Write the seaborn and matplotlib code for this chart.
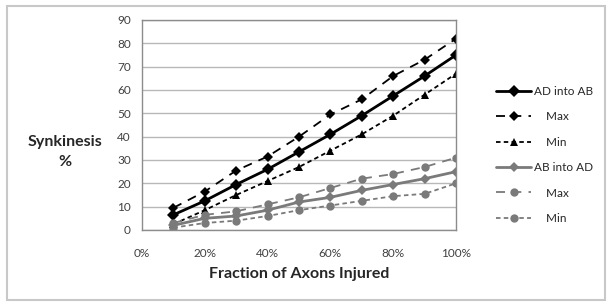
import matplotlib
matplotlib.use('Agg')
import matplotlib.pyplot as plt
import matplotlib.ticker as mticker
from matplotlib.patches import Rectangle
from matplotlib.lines import Line2D
import seaborn as sns
import pandas as pd

# data
fraction = [0.1, 0.2, 0.3, 0.4, 0.5, 0.6, 0.7, 0.8, 0.9, 1.0]
ad_into_ab = [6.5, 12.5, 19.5, 26, 33.5, 41, 49, 57.5, 66, 75]
ad_max = [9.5, 16.5, 25.5, 31.5, 40, 49.5, 56, 66, 73, 82]
ad_min = [2.5, 8.5, 15, 21, 27, 34, 41, 49, 58, 67]
ab_into_ad = [2, 5, 6, 8.5, 12, 14, 17, 19.5, 22, 25]
ab_max = [3, 6.5, 8, 11, 14, 18, 22, 24, 27, 31]
ab_min = [1, 3, 4, 6, 8.5, 10.5, 12.5, 14.5, 15.5, 20]

sns.set_style('white')
plt.rcParams['font.family'] = ['Lato', 'DejaVu Sans']

fig = plt.figure(figsize=(6.12, 3.07), dpi=100)
ax = fig.add_axes([142/612, 1 - 230/307, (456-142)/612, (230-20)/307])

black = '#000000'
gray = '#7a7a7a'
series = [
    ('AD into AB', ad_into_ab, black, '-', 'D', 2.0, 6),
    ('    Max', ad_max, black, (0, (5, 4)), 'D', 1.3, 5.5),
    ('    Min', ad_min, black, (0, (2.5, 1.8)), '^', 1.3, 6),
    ('AB into AD', ab_into_ad, gray, '-', 'D', 2.0, 5),
    ('    Max', ab_max, gray, (0, (5, 4)), 'o', 1.3, 6),
    ('    Min', ab_min, gray, (0, (2.5, 1.8)), 'o', 1.3, 6),
]

handles = []
for label, vals, col, ls, mk, lw, ms in series:
    df = pd.DataFrame({'x': fraction, 'y': vals})
    sns.lineplot(data=df, x='x', y='y', ax=ax, color=col, linestyle=ls,
                 marker=mk, markersize=ms, linewidth=lw, markeredgewidth=0)
    handles.append(Line2D([], [], color=col, linestyle=ls, marker=mk,
                          markersize=ms, linewidth=lw, markeredgewidth=0, label=label))

ax.set_xlim(0, 1)
ax.set_ylim(0, 90)
ax.set_xticks([0, 0.2, 0.4, 0.6, 0.8, 1.0])
ax.xaxis.set_major_formatter(mticker.PercentFormatter(1.0, decimals=0))
ax.set_yticks(range(0, 91, 10))
ax.yaxis.grid(True, color='#b8b8b8', linewidth=1)
ax.set_axisbelow(True)
for s in ax.spines.values():
    s.set_color('#8c8c8c')
    s.set_linewidth(1)
ax.tick_params(axis='both', colors='#8c8c8c', labelcolor='#404040', labelsize=8.5,
               length=4, width=1, direction='out')
ax.tick_params(axis='x', pad=9)
ax.tick_params(axis='y', pad=4)
ax.set_xlabel('Fraction of Axons Injured', fontsize=11.5, fontweight='bold', labelpad=6)
ax.set_ylabel('')
fig.text(65/612, 1 - 152/307, 'Synkinesis\n%', ha='center', va='center',
         fontsize=11.5, fontweight='bold', linespacing=1.5)

leg = ax.legend(handles=handles, loc='upper left', bbox_to_anchor=(490/612, 1 - 80/307),
                bbox_transform=fig.transFigure, frameon=False, fontsize=8.5,
                handlelength=3.0, handletextpad=0.2, labelspacing=1.22, borderpad=0)
for t in leg.get_texts():
    t.set_color('#262626')

fig.add_artist(Rectangle((7/612, 1 - 300/307), (605-7)/612, (300-6)/307,
                         transform=fig.transFigure, fill=False,
                         edgecolor='#c8c8c8', linewidth=1.5))

fig.savefig('out.png', dpi=100)
